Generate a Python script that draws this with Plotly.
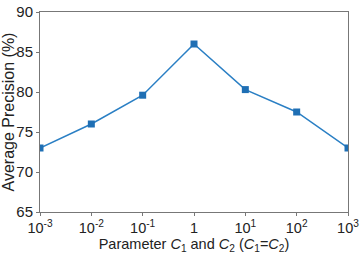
import plotly.graph_objects as go

x_labels = ["10<sup>-3</sup>", "10<sup>-2</sup>", "10<sup>-1</sup>", "1", "10<sup>1</sup>", "10<sup>2</sup>", "10<sup>3</sup>"]
x_pos = [0, 1, 2, 3, 4, 5, 6]
precision = [73.0, 76.0, 79.6, 86.0, 80.3, 77.5, 73.0]
y_ticks = [65, 70, 75, 80, 85, 90]

fig = go.Figure()
fig.add_trace(go.Scatter(
    x=x_pos, y=precision, mode="lines+markers",
    line=dict(color="#2a7fc4", width=1.5),
    marker=dict(symbol="square", size=7, color="#1f6fb4"),
    showlegend=False,
))

font_family = "Liberation Sans, Arial, sans-serif"
fig.update_layout(
    width=363, height=255,
    margin=dict(l=40, r=15, t=12, b=43),
    plot_bgcolor="white", paper_bgcolor="white",
    font=dict(family=font_family, size=14, color="#222"),
    xaxis=dict(
        range=[0, 6], tickvals=x_pos, ticktext=x_labels,
        showgrid=False, zeroline=False, automargin=False,
        showline=True, linecolor="#777", linewidth=1, mirror=True,
        ticks="outside", ticklen=3, tickcolor="#777",
        tickfont=dict(size=14.5),
        title=dict(text="Parameter <i>C</i><sub>1</sub> and <i>C</i><sub>2</sub> (<i>C</i><sub>1</sub>=<i>C</i><sub>2</sub>)",
                   font=dict(size=14.5), standoff=0),
    ),
    yaxis=dict(
        range=[65, 90], tickvals=y_ticks,
        showgrid=False, zeroline=False, automargin=False,
        showline=True, linecolor="#777", linewidth=1, mirror=True,
        ticks="outside", ticklen=3, tickcolor="#777",
        tickfont=dict(size=15),
        title=dict(text="Average Precision (%)", font=dict(size=16), standoff=1),
    ),
)

fig.write_html("out.html", config={"displayModeBar": False},
               post_script="document.body.style.margin='0';")
